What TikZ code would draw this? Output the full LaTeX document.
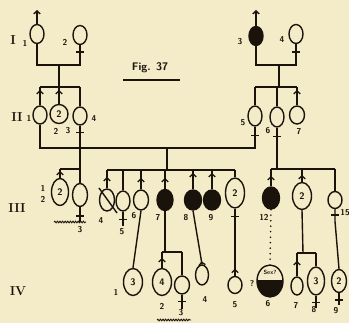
\documentclass[tikz,border=0pt]{standalone}
\usetikzlibrary{shapes.geometric,arrows.meta,decorations.markings,decorations.pathmorphing,calc}
\definecolor{ink}{HTML}{1A130C}
\definecolor{paper}{HTML}{F4EBC8}
\tikzset{
  ind/.style={ellipse, draw=ink, line width=1.4pt, inner sep=0pt, minimum width=14pt, minimum height=19pt, text=ink},
  aff/.style={ind, fill=ink},
  grp/.style={ind, minimum width=18pt, minimum height=26pt, font=\sffamily\bfseries\fontsize{9.5}{9.5}\selectfont},
  lbl/.style={font=\sffamily\bfseries\fontsize{8.5}{8.5}\selectfont, text=ink, inner sep=0pt},
  gen/.style={font=\bfseries\fontsize{13}{13}\selectfont, text=ink, inner sep=0pt},
  ln/.style={draw=ink, line width=1.4pt},
  malestem/.style={ln, postaction={decorate}, decoration={markings, mark=at position #1 with {\arrow[line width=1.3pt]{Straight Barb[length=3pt,width=6.5pt]}}}},
  malestem/.default=-4pt,
  uparrow/.style={ln, -{Straight Barb[length=3pt,width=6.5pt]}},
  wavy/.style={draw=ink, line width=0.9pt, decorate, decoration={snake, amplitude=0.8pt, segment length=2.6pt}},
  dotline/.style={draw=ink, line width=1.8pt, line cap=round, dash pattern=on 0pt off 5.5pt},
  sexunk/.style={minimum width=26pt, minimum height=32pt, path picture={\fill[ink] ([yshift=1pt]path picture bounding box.west) rectangle (path picture bounding box.south east);}}
}
\begin{document}
\begin{tikzpicture}[x=1pt,y=-1pt]
\fill[paper] (0,0) rectangle (349,323);
\useasboundingbox (0,0) rectangle (349,323);

% generation labels
\node[gen] (gI) at (13,40) {I};
\node[gen] (gII) at (17,117) {II};
\node[gen] (gIII) at (17,208) {III};
\node[gen] (gIV) at (18,291) {IV};

% title
\node[text=ink, inner sep=0pt, font=\sffamily\bfseries\fontsize{11}{11}\selectfont] (fig) at (150,68) {Fig. 37};
\coordinate (ulA) at (123,80);
\coordinate (ulB) at (180,80);
\draw[ln, line width=1.1pt] (ulA) -- (ulB);

% ---------- Generation I ----------
\node[ind] (I1) at (37,34) {};
\node[ind] (I2) at (80,35) {};
\node[aff] (I3) at (256,36) {};
\node[ind] (I4) at (296,34) {};
\node[lbl] (lI1) at (25,43) {1};
\node[lbl] (lI2) at (65,42) {2};
\node[lbl] (lI3) at (240,42) {3};
\node[lbl] (lI4) at (282,40) {4};
\coordinate (tI1) at (37,10);
\coordinate (tI3) at (256,10);
\draw[uparrow] (I1.north) -- (tI1);
\draw[uparrow] (I3.north) -- (tI3);

\coordinate (mI1) at (59,65);
\coordinate (sI1) at (59,87);
\coordinate (mI3) at (279,65);
\coordinate (sI3) at (279,87);
\draw[ln] (I1.south) |- (mI1);
\draw[ln] (I2.south) |- (mI1);
\draw[ln] (mI1) -- (sI1);
\draw[ln] (I3.south) |- (mI3);
\draw[ln] (I4.south) |- (mI3);
\draw[ln] (mI3) -- (sI3);

% ---------- Generation II ----------
\node[ind, minimum height=18pt] (II1) at (40,115) {};
\node[grp, minimum width=18pt, minimum height=19pt] (II23) at (59,114) {2};
\node[ind, minimum height=18pt] (II4) at (80,116) {};
\node[ind, minimum height=20pt] (II5) at (255,116) {};
\node[ind, minimum height=20pt] (II6) at (277,117) {};
\node[ind, minimum width=15pt, minimum height=18pt] (II7) at (297,115) {};
\node[lbl] (lII1) at (29,118) {1};
\node[lbl] (lII2) at (56,131) {2};
\node[lbl] (lII3) at (68,131) {3};
\node[lbl] (lII4) at (94,119) {4};
\node[lbl] (lII5) at (243,123) {5};
\node[lbl] (lII6) at (268,131) {6};
\node[lbl] (lII7) at (299,132) {7};

\draw[ln] (II1.north |- sI1) -- (II4.north |- sI1);
\draw[malestem=-3pt] (II1.north) -- (II1.north |- sI1);
\draw[malestem=-3pt] (II23.north) -- (II23.north |- sI1);
\draw[ln] (II4.north) -- (II4.north |- sI1);
\draw[ln] (II5.north |- sI3) -- (II7.north |- sI3);
\draw[ln] (II5.north) -- (II5.north |- sI3);
\draw[ln] (II6.north) -- (II6.north |- sI3);
\draw[malestem=-3pt] (II7.north) -- (II7.north |- sI3);

% ---------- Generation III ----------
\node[grp, minimum width=17pt, minimum height=27pt] (III2) at (60,192) {2};
\node[ind, minimum width=15pt, minimum height=23pt] (III3) at (80,195) {};
\node[ind, minimum width=15pt, minimum height=22pt] (III4) at (107,200) {};
\node[ind, minimum width=14pt, minimum height=20pt] (III5) at (123,201) {};
\node[ind, minimum width=15pt, minimum height=20pt] (III6) at (141,200) {};
\node[aff, minimum width=16pt, minimum height=21pt] (III7) at (165,200) {};
\node[aff, minimum width=17pt, minimum height=20pt] (III8) at (193,200) {};
\node[aff, minimum width=17pt, minimum height=20pt] (III9) at (212,200) {};
\node[grp, minimum width=19pt, minimum height=30pt] (III10) at (235,193) {2};
\node[aff, minimum width=17pt, minimum height=22pt] (III12) at (271,198) {};
\node[grp, minimum width=19pt, minimum height=27pt] (III13) at (302,196) {2};
\node[ind, minimum width=14pt, minimum height=17pt] (III15) at (335,200) {};
\node[lbl] (lIII1) at (43,188) {1};
\node[lbl] (lIII2) at (43,199) {2};
\node[lbl] (lIII3) at (80,230) {3};
\node[lbl] (lIII4) at (101,221) {4};
\node[lbl] (lIII5) at (122,232) {5};
\node[lbl] (lIII6) at (134,216) {6};
\node[lbl] (lIII7) at (158,218) {7};
\node[lbl] (lIII8) at (186,218) {8};
\node[lbl] (lIII9) at (211,218) {9};
\node[lbl] (lIII12) at (264,217) {12};
\node[lbl] (lIII15) at (345,213) {15};

% death slash on III-4
\coordinate (slA) at (99,188);
\coordinate (slB) at (117,213);
\draw[ln] (slA) -- (slB);

% marriage II-1 x II-5
\coordinate (mII) at (167,148);
\coordinate (sII) at (167,170);
\draw[ln] (II1.south) |- (mII);
\draw[ln] (II5.south) |- (mII);
\draw[ln] (mII) -- (sII);
\draw[ln] (III4.north |- sII) -- (III10.north |- sII);
\draw[malestem=-7pt] (III4.north) -- (III4.north |- sII);
\draw[ln] (III5.north) -- (III5.north |- sII);
\draw[malestem=-8pt] (III6.north) -- (III6.north |- sII);
\draw[malestem=-8pt] (III7.north) -- (III7.north |- sII);
\draw[malestem=-3pt] (III8.north) -- (III8.north |- sII);
\draw[malestem=-3pt] (III9.north) -- (III9.north |- sII);
\draw[ln] (III10.north) -- (III10.north |- sII);

% offspring of II-4
\coordinate (sIIa) at (80,169);
\draw[ln] (II4.south) -- (III3.north);
\draw[ln] (III2.north |- sIIa) -- (sIIa);
\draw[malestem=-2pt] (III2.north) -- (III2.north |- sIIa);

% offspring of II-6
\coordinate (sIIb) at (277,169);
\draw[ln] (II6.south) -- (sIIb);
\draw[ln] (III12.north |- sIIb) -- (III15.north |- sIIb);
\draw[malestem=-7pt] (III12.north) -- (III12.north |- sIIb);
\draw[malestem=-6pt] (III13.north) -- (III13.north |- sIIb);
\draw[ln] (III15.north) -- (III15.north |- sIIb);

% ---------- Generation IV ----------
\node[grp, minimum width=19pt, minimum height=27pt] (IV1) at (133,282) {3};
\node[grp, minimum width=19pt, minimum height=27pt] (IV2) at (162,282) {4};
\node[ind, minimum width=15pt, minimum height=18pt] (IV3) at (182,285) {};
\node[ind, minimum width=13pt, minimum height=20pt] (IV4) at (202,275) {};
\node[ind, minimum width=14pt, minimum height=17pt] (IV5) at (235,285) {};
\node[ind, sexunk] (IV6) at (270,281) {};
\node[text=ink, inner sep=0pt, font=\sffamily\bfseries\fontsize{6}{6}\selectfont] (IV6t) at (270,272.5) {Sex?};
\node[ind, minimum width=12pt, minimum height=18pt] (IV7) at (297,286) {};
\node[grp, minimum width=17pt, minimum height=28pt] (IV8) at (316,281) {3};
\node[grp, minimum width=15pt, minimum height=23pt] (IV9) at (339,281) {2};
\node[lbl] (lIV1) at (116,292) {1};
\node[lbl] (lIV2) at (162,306) {2};
\node[lbl] (lIV3) at (181,313) {3};
\node[lbl] (lIV4) at (205,300) {4};
\node[lbl] (lIV5) at (235,305) {5};
\node[lbl] (lIV6q) at (252,284) {?};
\node[lbl] (lIV6) at (268,304) {6};
\node[lbl] (lIV7) at (296,306) {7};
\node[lbl] (lIV8) at (314,310) {8};
\node[lbl] (lIV9) at (336,311) {9};

% III-6 -> IV-1
\draw[ln] (III6.south) -- (IV1.north);
% III-7 -> IV-2, IV-3
\coordinate (sIII7) at (165,252);
\draw[ln] (III7.south) -- (sIII7);
\draw[ln] (IV2.north |- sIII7) -- (IV3.north |- sIII7);
\draw[malestem=-6pt] (IV2.north) -- (IV2.north |- sIII7);
\draw[ln] (IV3.north) -- (IV3.north |- sIII7);
% III-8 -> IV-4
\draw[malestem=3pt] (IV4.north) -- (III8.south);
% III-10,11 -> IV-5
\draw[malestem=7pt] (IV5.north) -- (III10.south);
% III-12 ... IV-6
\draw[dotline] (III12.south) -- (IV6.north);
% III-13,14 -> IV-7, IV-8
\coordinate (sIII13) at (303,253);
\draw[ln] (III13.south) -- (sIII13);
\draw[ln] (IV7.north |- sIII13) -- (IV8.north |- sIII13);
\draw[malestem=-8pt] (IV7.north) -- (IV7.north |- sIII13);
\draw[ln] (IV8.north) -- (IV8.north |- sIII13);
% III-15 -> IV-9
\coordinate (III15end) at ($(III15.south)+(0,12)$);
\draw[ln] (III15.south) -- (III15end) -- (IV9.north);

% female stubs
\foreach \n/\l in {III3/15, III5/14, IV3/14, IV8/12, IV9/12}
  \draw[ln] (\n.south) -- ++(0,\l);
% crossbars
\foreach \n/\d in {I2/7, I4/8, II4/7, II5/9, II6/9, III3/9, III5/8, III10/8, III15/6, IV3/7, IV8/7, IV9/7}
  \draw[ln] ($(\n.south)+(-4,\d)$) -- ++(8,0);

% wavy underlines
\coordinate (wA) at (54,222);
\coordinate (wB) at (86,222);
\draw[wavy] (wA) -- (wB);
\coordinate (wC) at (157,320);
\coordinate (wD) at (191,320);
\draw[wavy] (wC) -- (wD);
\end{tikzpicture}
\end{document}
